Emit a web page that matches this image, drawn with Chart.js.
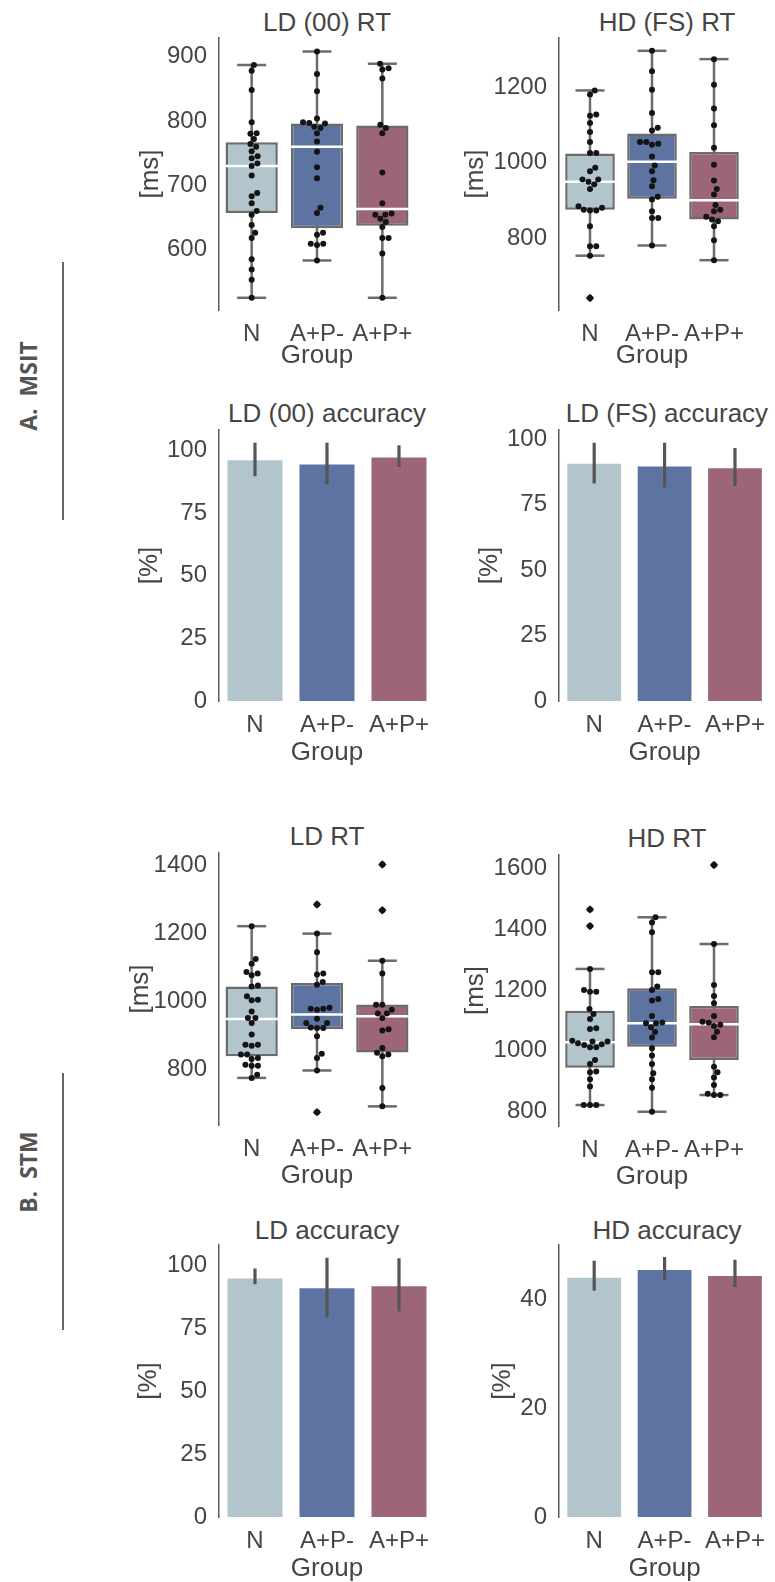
<!DOCTYPE html>
<html>
<head>
<meta charset="utf-8">
<script src="https://cdn.jsdelivr.net/npm/chart.js@4/dist/chart.umd.min.js"></script>
<style>
  body { margin: 0; background: #fff; width: 775px; height: 1582px; position: relative; overflow: hidden;
         font-family: "Liberation Sans", Arial, sans-serif; color: #454545; }
  canvas { position: absolute; }
  .title { position: absolute; width: 300px; text-align: center; font-size: 26px; line-height: 30px; }
  .side { position: absolute; width: 200px; text-align: center; line-height: 30px; font-family: "Open Sans", sans-serif;
          font-weight: 700; font-size: 23px; color: #555; transform: rotate(-90deg); white-space: pre; }
  .rule { position: absolute; width: 1.5px; background: #666; }
</style>
</head>
<body>
<div class="side" style="left:-72px; top:371px;">A.  MSIT</div>
<div class="rule" style="left:62px; top:262px; height:258px;"></div>
<div class="side" style="left:-72px; top:1157px;">B.  STM</div>
<div class="rule" style="left:62px; top:1073px; height:257px;"></div>

<div class="title" style="left:177px; top:7px;">LD (00) RT</div>
<div class="title" style="left:517px; top:7px;">HD (FS) RT</div>
<div class="title" style="left:177px; top:398px;">LD (00) accuracy</div>
<div class="title" style="left:517px; top:398px;">LD (FS) accuracy</div>
<div class="title" style="left:177px; top:821px;">LD RT</div>
<div class="title" style="left:517px; top:823px;">HD RT</div>
<div class="title" style="left:177px; top:1215px;">LD accuracy</div>
<div class="title" style="left:517px; top:1215px;">HD accuracy</div>

<canvas id="msitLdRt" width="345" height="380" style="left:100px; top:0px;"></canvas>
<canvas id="msitHdRt" width="335" height="380" style="left:440px; top:0px;"></canvas>
<canvas id="msitLdAcc" width="345" height="379" style="left:100px; top:392px;"></canvas>
<canvas id="msitFsAcc" width="335" height="379" style="left:440px; top:392px;"></canvas>
<canvas id="stmLdRt" width="345" height="380" style="left:100px; top:815px;"></canvas>
<canvas id="stmHdRt" width="335" height="379" style="left:440px; top:817px;"></canvas>
<canvas id="stmLdAcc" width="345" height="380" style="left:100px; top:1207px;"></canvas>
<canvas id="stmHdAcc" width="335" height="380" style="left:440px; top:1207px;"></canvas>

<script>
const groups = ['N', 'A+P-', 'A+P+'];

// MSIT, LD (00) RT [ms]
const msitLdRtPoints = [
  [887, 878, 848, 798, 781, 780, 772, 764, 760, 753, 745, 742, 734, 730, 715, 688, 683, 672, 660, 654, 638, 626, 618, 585, 569, 553, 525],
  [908, 873, 846, 804, 798, 797, 796, 791, 789, 781, 768, 752, 728, 711, 665, 657, 626, 623, 609, 607, 609, 583],
  [889, 882, 880, 866, 794, 789, 781, 720, 672, 656, 654, 654, 648, 643, 635, 618, 618, 594, 525]
];
const msitLdRtQ1 = [657, 633, 637];
const msitLdRtMedian = [730, 760, 663];
const msitLdRtQ3 = [767, 796, 793];
const msitLdRtLow = [525, 583, 525];
const msitLdRtHigh = [887, 908, 889];
const msitLdRtOutliers = [[], [], []];

// MSIT, HD (FS) RT [ms]
const msitHdRtPoints = [
  [1192, 1181, 1128, 1125, 1106, 1082, 1055, 1026, 1026, 987, 978, 956, 956, 950, 943, 931, 885, 881, 876, 874, 874, 832, 779, 779, 754, 642],
  [1297, 1243, 1194, 1132, 1093, 1086, 1055, 1051, 1048, 1055, 1017, 993, 978, 954, 938, 910, 903, 872, 854, 854, 781],
  [1275, 1207, 1144, 1100, 1040, 995, 953, 931, 916, 888, 876, 872, 857, 850, 845, 832, 795, 742]
];
const msitHdRtQ1 = [876, 905, 850];
const msitHdRtMedian = [950, 1003, 901];
const msitHdRtQ3 = [1025, 1078, 1029];
const msitHdRtLow = [754, 781, 742];
const msitHdRtHigh = [1192, 1297, 1275];
const msitHdRtOutliers = [[642], [], []];

// STM, LD RT [ms]
const stmLdRtPoints = [
  [1222, 1125, 1111, 1087, 1082, 1077, 1047, 1044, 1015, 1005, 1003, 970, 951, 951, 936, 902, 872, 869, 872, 843, 843, 833, 830, 813, 810, 810, 783, 774],
  [1286, 1200, 1145, 1082, 1079, 1057, 1049, 978, 975, 978, 981, 949, 936, 923, 921, 921, 936, 897, 845, 833, 796, 673],
  [1404, 1269, 1120, 1082, 990, 990, 975, 964, 964, 951, 918, 914, 862, 848, 843, 838, 744, 690]
];
const stmLdRtQ1 = [838, 918, 849];
const stmLdRtMedian = [948, 961, 956];
const stmLdRtQ3 = [1044, 1054, 991];
const stmLdRtLow = [774, 796, 690];
const stmLdRtHigh = [1222, 1200, 1120];
const stmLdRtOutliers = [[], [1286, 673], [1404, 1269]];

// STM, HD RT [ms]
const stmHdRtPoints = [
  [1465, 1410, 1269, 1194, 1194, 1200, 1137, 1121, 1104, 1074, 1071, 1030, 1030, 1024, 1033, 1011, 1019, 1021, 1011, 969, 956, 931, 929, 906, 882, 821, 821, 821],
  [1439, 1422, 1390, 1258, 1258, 1211, 1200, 1170, 1165, 1114, 1093, 1090, 1090, 1077, 1061, 1043, 1008, 984, 956, 926, 906, 878, 799],
  [1611, 1351, 1216, 1180, 1156, 1114, 1095, 1092, 1085, 1081, 1062, 1044, 947, 929, 912, 887, 858, 854, 854]
];
const stmHdRtQ1 = [944, 1013, 969];
const stmHdRtMedian = [1028, 1090, 1087];
const stmHdRtQ3 = [1131, 1205, 1147];
const stmHdRtLow = [821, 799, 854];
const stmHdRtHigh = [1269, 1439, 1351];
const stmHdRtOutliers = [[1465, 1410], [], [1611]];

// accuracy [%]: mean with error bar ends
const msitLdAcc = [96.0, 94.3, 97.1];
const msitLdAccLow = [89.7, 86.4, 93.3];
const msitLdAccHigh = [103.0, 103.0, 102.0];
const msitFsAcc = [90.5, 89.5, 88.8];
const msitFsAccLow = [83.0, 81.5, 82.0];
const msitFsAccHigh = [98.5, 98.5, 96.5];
const stmLdAcc = [94.8, 90.9, 91.7];
const stmLdAccLow = [92.5, 79.4, 81.7];
const stmLdAccHigh = [98.8, 103.0, 102.8];
const stmHdAcc = [43.9, 45.3, 44.2];
const stmHdAccLow = [41.5, 43.5, 42.2];
const stmHdAccHigh = [47.0, 47.7, 47.2];

// tick labels
const ticksLdRt = [600, 700, 800, 900];
const ticksHdFsRt = [800, 1000, 1200];
const ticksStmLdRt = [800, 1000, 1200, 1400];
const ticksStmHdRt = [800, 1000, 1200, 1400, 1600];
const ticksPct = [0, 25, 50, 75, 100];
const ticksHdAcc = [0, 20, 40];

const groupColors = ['#b2c4cc', '#5d74a2', '#9c6676'];
const edgeColor = '#6b6b6b';

Chart.defaults.font.family = '"Liberation Sans", Arial, sans-serif';
Chart.defaults.color = '#454545';

function baseOptions(yMin, yMax, yTicks, yLabel, padRight, yTitlePad, xTitlePad) {
  return {
    responsive: false,
    animation: false,
    events: [],
    layout: { padding: { top: 38, right: padRight, left: 0, bottom: 0 } },
    plugins: { legend: { display: false }, tooltip: { enabled: false } },
    scales: {
      x: {
        type: 'linear', min: -0.5, max: 2.5, offset: false,
        afterBuildTicks: s => { s.ticks = groups.map((g, i) => ({ value: i })); },
        afterFit: s => { s.height = 70; },
        grid: { display: false, drawTicks: false },
        border: { display: false },
        ticks: { callback: v => groups[v], font: { size: 24 }, padding: 10, maxRotation: 0, autoSkip: false },
        title: { display: true, text: 'Group', font: { size: 26 }, padding: { top: 0, bottom: xTitlePad } }
      },
      y: {
        type: 'linear', min: yMin, max: yMax,
        afterBuildTicks: s => { s.ticks = yTicks.map(v => ({ value: v })); },
        afterFit: s => { s.width = 119; },
        grid: { display: false, drawTicks: false },
        border: { display: true, color: '#5a5a5a', width: 1.5 },
        ticks: { callback: v => String(v), font: { size: 24 }, padding: 12 },
        title: { display: true, text: yLabel, font: { size: 26 }, padding: { top: yTitlePad, bottom: 0 } }
      }
    }
  };
}

// simple beeswarm: closest free horizontal spot next to already placed dots
function swarm(chart, values, center, diam) {
  const xs = chart.scales.x, ys = chart.scales.y;
  const perUnit = xs.getPixelForValue(1) - xs.getPixelForValue(0);
  const order = values.map((v, i) => i).sort((a, b) => values[a] - values[b]);
  const placed = [];
  const out = [];
  order.forEach(i => {
    const py = ys.getPixelForValue(values[i]);
    let dx = 0;
    for (let k = 0; k < 600; k++) {
      const c = (k % 2 ? 1 : -1) * Math.ceil(k / 2) * 0.25;
      if (placed.every(p => Math.hypot(p.x - c, p.y - py) >= diam)) { dx = c; break; }
    }
    placed.push({ x: dx, y: py });
    out.push({ x: center + dx / perUnit, y: values[i] });
  });
  return out;
}

function boxChart(id, pts, q1, med, q3, lo, hi, outliers, yMin, yMax, yTicks, padRight, yTitlePad, xTitlePad) {
  const whiskers = [];
  const caps = [];
  const medians = [];
  const fliers = [];
  groups.forEach((g, i) => {
    whiskers.push({ x: i, y: lo[i] }, { x: i, y: hi[i] }, { x: i, y: null });
    caps.push({ x: i, y: lo[i] }, { x: i, y: hi[i] });
    medians.push({ x: i, y: med[i] });
    outliers[i].forEach(v => fliers.push({ x: i, y: v }));
  });
  const chart = new Chart(document.getElementById(id), {
    type: 'bar',
    data: {
      datasets: [
        { type: 'line', data: whiskers, borderColor: edgeColor, borderWidth: 2.5, pointRadius: 0, spanGaps: false, order: 5 },
        { type: 'bar', data: groups.map((g, i) => ({ x: i, y: [q1[i], q3[i]] })), backgroundColor: groupColors,
          borderColor: edgeColor, borderWidth: 2.5, borderSkipped: false, categoryPercentage: 0.8, barPercentage: 1, order: 4 },
        { type: 'scatter', data: caps, pointStyle: 'line', pointRadius: 14.5, pointBorderColor: edgeColor, pointBorderWidth: 2.5, order: 3 },
        { type: 'scatter', data: medians, pointStyle: 'line', pointRadius: 27.5, pointBorderColor: '#ffffff', pointBorderWidth: 2.5, order: 2 },
        { type: 'scatter', data: fliers, pointStyle: 'rectRot', pointRadius: 4.2, pointBackgroundColor: '#222', pointBorderColor: '#222', pointBorderWidth: 0, order: 1 },
        { type: 'scatter', data: [], pointStyle: 'circle', pointRadius: 3, pointBackgroundColor: '#141414', pointBorderWidth: 0, order: 0 }
      ]
    },
    options: baseOptions(yMin, yMax, yTicks, '[ms]', padRight, yTitlePad, xTitlePad)
  });
  let dots = [];
  pts.forEach((vals, i) => { dots = dots.concat(swarm(chart, vals, i, 6.2)); });
  chart.data.datasets[5].data = dots;
  chart.update('none');
  return chart;
}

function barChart(id, means, lo, hi, yMax, yTicks, padRight, yTitlePad) {
  const errs = [];
  groups.forEach((g, i) => { errs.push({ x: i, y: lo[i] }, { x: i, y: hi[i] }, { x: i, y: null }); });
  return new Chart(document.getElementById(id), {
    type: 'bar',
    data: {
      datasets: [
        { type: 'bar', data: means.map((v, i) => ({ x: i, y: v })), backgroundColor: groupColors,
          categoryPercentage: 0.8, barPercentage: 0.955, order: 2 },
        { type: 'line', data: errs, borderColor: '#555555', borderWidth: 3.2, pointRadius: 0, spanGaps: false, order: 1 }
      ]
    },
    options: baseOptions(0, yMax, yTicks, '[%]', padRight, yTitlePad, 3)
  });
}

boxChart('msitLdRt', msitLdRtPoints, msitLdRtQ1, msitLdRtMedian, msitLdRtQ3, msitLdRtLow, msitLdRtHigh, msitLdRtOutliers,
  506, 929, ticksLdRt, 10, 35, 9);
boxChart('msitHdRt', msitHdRtPoints, msitHdRtQ1, msitHdRtMedian, msitHdRtQ3, msitHdRtLow, msitHdRtHigh, msitHdRtOutliers,
  610, 1331, ticksHdFsRt, 0, 20, 9);
barChart('msitLdAcc', msitLdAcc, msitLdAccLow, msitLdAccHigh, 108.1, ticksPct, 10, 34);
barChart('msitFsAcc', msitFsAcc, msitFsAccLow, msitFsAccHigh, 103.4, ticksPct, 0, 34);
boxChart('stmLdRt', stmLdRtPoints, stmLdRtQ1, stmLdRtMedian, stmLdRtQ3, stmLdRtLow, stmLdRtHigh, stmLdRtOutliers,
  635, 1438, ticksStmLdRt, 10, 25, 4);
boxChart('stmHdRt', stmHdRtPoints, stmHdRtQ1, stmHdRtMedian, stmHdRtQ3, stmHdRtLow, stmHdRtHigh, stmHdRtOutliers,
  752, 1644, ticksStmHdRt, 0, 20, 4);
barChart('stmLdAcc', stmLdAcc, stmLdAccLow, stmLdAccHigh, 108.1, ticksPct, 10, 33);
barChart('stmHdAcc', stmHdAcc, stmHdAccLow, stmHdAccHigh, 49.9, ticksHdAcc, 0, 47);
</script>
</body>
</html>
